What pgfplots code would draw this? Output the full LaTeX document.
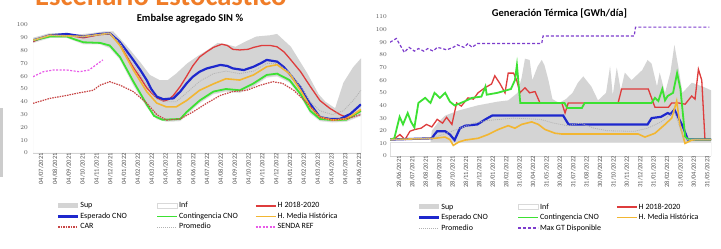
\documentclass[border=0pt]{standalone}
\usepackage{pgfplots}
\pgfplotsset{compat=1.18}
\usepackage{fontspec}
\setmainfont{Carlito}
\definecolor{cSup}{RGB}{212,212,212}
\definecolor{cBlue}{RGB}{30,40,205}
\definecolor{cGreen}{RGB}{60,225,50}
\definecolor{cRed}{RGB}{222,60,60}
\definecolor{cOrange}{RGB}{242,182,50}
\definecolor{cCar}{RGB}{200,70,70}
\definecolor{cSenda}{RGB}{232,90,232}
\definecolor{cMax}{RGB}{125,60,205}
\definecolor{cHead}{RGB}{240,125,40}
\definecolor{cTick}{RGB}{85,85,85}
\pgfplotsset{
  every axis title/.style={at={(0.5,1)}, anchor=base, font=\fontsize{10.5}{12}\selectfont\bfseries},
  mystyle/.style={
    scale only axis,
    axis lines*=left,
    y axis line style={draw=none},
    x axis line style={draw=gray!35, line width=0.6pt},
    tick style={draw=none},
    xtick={0,...,23},
    xticklabel style={rotate=90, anchor=east, font=\fontsize{6.5}{7}\selectfont, text=cTick, inner sep=0pt, yshift=-6pt},
    yticklabel style={anchor=east, font=\fontsize{6}{7}\selectfont, text=cTick, inner sep=0pt},
    legend columns=3,
    legend cell align=left,
    legend style={draw=none, fill=none, font=\fontsize{8}{9}\selectfont, inner sep=0pt,
      column sep=0pt, row sep=1pt, nodes={inner sep=1pt, text height=5.8pt, text depth=1.7pt}},
    legend image code/.code={\draw[##1] (0pt,0pt) -- (20pt,0pt);},
    axis on top,
  },
  suplegend/.style={legend image code/.code={\fill[cSup] (0pt,-2.5pt) rectangle (20pt,2.5pt);}},
  inflegend/.style={legend image code/.code={\filldraw[fill=white, draw=gray!30, line width=0.4pt] (0pt,-2.5pt) rectangle (20pt,2.5pt);}},
}
\begin{document}
\begin{tikzpicture}
\useasboundingbox (0pt,0pt) rectangle (721pt,249pt);
\fill[white] (0pt,0pt) rectangle (721pt,249pt);
\node[overlay, anchor=base west, text=cHead, font=\fontsize{28.6}{30}\selectfont\bfseries, inner sep=0pt] at (35pt,243.5pt) {Escenario Estocástico};
\fill[gray!40] (0pt,72pt) rectangle (3pt,141pt);

% ---------------- Left chart ----------------
\begin{axis}[mystyle,
  at={(33pt,96pt)}, anchor=south west,
  width=328pt, height=128pt,
  xmin=-0.15, xmax=23.57, ymin=0, ymax=100,
  ytick={0,10,...,100},
  yticklabel style={xshift=-5pt},
  xticklabels={04/07/2021,04/08/2021,04/09/2021,04/10/2021,04/11/2021,04/12/2021,04/01/2022,04/02/2022,04/03/2022,04/04/2022,04/05/2022,04/06/2022,04/07/2022,04/08/2022,04/09/2022,04/10/2022,04/11/2022,04/12/2022,04/01/2023,04/02/2023,04/03/2023,04/04/2023,04/05/2023,04/06/2023},
  title={Embalse agregado SIN \%},
  title style={xshift=-7pt, yshift=3pt},
  legend style={at={(0.073,-0.375)}, anchor=north west},
]
\addplot[fill=cSup, draw=none, suplegend] coordinates {
(-0.15,90) (1,93.5) (2,93.5) (3,92.5) (4,93.5) (5,95) (5.65,95) (6.6,84) (7.6,71) (8.3,61) (9,57) (9.6,57) (10.2,62) (11,70) (11.8,76) (12.4,80) (13.2,86) (13.8,85) (14.5,83) (15.2,87) (16,91) (17,92) (17.5,93) (18.5,83) (19.7,62) (20.5,46) (21,40) (21.7,35) (22.3,55) (23,67) (23.57,74)
} \closedcycle;
\addlegendentry{\makebox[75pt][l]{Sup}}
\addplot[fill=white, draw=gray!20, line width=0.4pt, inflegend] coordinates {
(-0.15,86) (1.08,90) (2.3,90) (3.5,85) (4.7,85) (5.4,82) (6.14,73) (7.1,53) (8.07,36) (8.8,26.5) (9.5,24.5) (10.5,25) (10.96,30) (11.9,39) (12.9,46) (13.8,48) (14.8,47) (15.8,52) (16.75,59) (17.5,60) (18.4,55) (19.2,44) (19.9,31) (20.6,25) (21.5,24) (22.5,24.5) (23.57,29)
} \closedcycle;
\addlegendentry{\makebox[75pt][l]{Inf}}
\addplot[cRed, line width=1.3pt] coordinates {
(-0.15,87) (0.5,90) (1.1,92) (2.3,92) (3.5,90) (4.7,92.5) (5.4,93) (5.9,89) (6.14,85) (6.6,76) (7.1,67) (7.6,59) (8.07,51) (8.5,46) (8.8,43) (9.3,40.5) (9.7,42) (10,45) (10.5,52) (10.96,60) (11.4,68) (11.9,75) (12.4,79) (12.9,82.5) (13.5,85) (13.9,84) (14.3,81) (14.8,80.5) (15.4,81) (15.8,82.5) (16.4,84) (17,84) (17.5,83) (18,79) (18.4,74) (19.2,63.5) (19.9,52) (20.6,41) (21.3,35) (22.05,30) (22.5,28) (23,29) (23.57,33)
};
\addlegendentry{H 2018-2020}
\addplot[cBlue, line width=2.2pt] coordinates {
(-0.15,88) (0.5,90) (1.08,92) (2.3,93) (3.5,91) (4.7,93) (5.4,93.5) (6.1,87) (6.6,80) (7.1,72.7) (7.6,65) (8.07,57) (8.4,50) (8.8,44) (9.28,42) (10,42.7) (10.5,48) (10.96,54.4) (11.4,59.5) (11.9,63.5) (12.4,66) (12.9,67.4) (13.4,68.8) (13.9,68) (14.3,66.1) (15.1,64.8) (15.8,67.4) (16.3,70) (16.75,72.7) (17.5,71.4) (18,67) (18.4,62) (18.8,56.5) (19.2,51.3) (19.9,38.3) (20.6,28) (21.3,26.6) (22.05,26.6) (22.8,30.5) (23.57,38)
};
\addlegendentry{Esperado CNO}
\addplot[cGreen, line width=1.8pt] coordinates {
(-0.15,88) (1.08,91) (2.3,91) (2.8,89) (3.5,86.5) (4.7,86) (5.4,84) (6.14,75) (7.1,56) (8.07,38) (8.6,29) (9.2,26) (10.5,26.6) (10.96,32) (11.9,41) (12.9,48) (13.8,50) (14.8,49) (15.8,54.4) (16.75,61) (17.5,62) (18.4,57) (19.2,46) (19.9,33) (20.6,26.6) (21.5,25.7) (22.5,26) (23.57,33)
};
\addlegendentry{Contingencia CNO}
\addplot[cOrange, line width=1.6pt] coordinates {
(-0.15,88) (1.08,92) (3.5,91) (5.4,93.5) (6.14,84) (7.1,65) (8.07,48) (8.8,39) (9.5,36) (10.2,36) (10.96,41) (11.9,49) (12.9,54) (13.8,58) (14.8,57) (15.8,61) (16.75,67.4) (17.5,69) (18.4,62) (19.2,49) (19.9,36) (20.6,28) (21.5,25.7) (22.5,26.6) (23.57,34)
};
\addlegendentry{H. Media Histórica}
\addplot[cCar, line width=1.2pt, dash pattern=on 1.5pt off 1pt] coordinates {
(-0.15,38.8) (1.08,42.7) (2.3,45) (3,46.6) (3.7,48) (4.2,49) (4.7,53) (5.4,55.7) (6.14,53) (7.1,48) (8.07,39) (8.8,30) (9.5,25.7) (10.5,26.6) (11.4,32) (12.4,38.8) (13.4,45) (14.3,48) (15.3,49) (16.3,53) (17.2,55.7) (17.9,54.4) (18.7,49) (19.7,38.8) (20.6,28) (21.5,25.7) (22.5,26.6) (23.57,30)
};
\addlegendentry{CAR}
\addplot[gray!60, line width=0.8pt, dash pattern=on 1pt off 1pt] coordinates {
(-0.15,88) (1.08,92) (3.5,91) (5.4,93.5) (6.14,86) (7.1,69) (8.07,53) (8.8,42) (9.5,40) (10.2,40) (10.96,47) (11.9,56) (12.9,62) (13.8,64) (14.8,62) (15.8,64) (16.75,70) (17.5,70) (18.4,63) (19.2,52) (19.9,40) (20.6,33) (21.5,30) (22.3,33) (23,41) (23.57,49)
};
\addlegendentry{Promedio}
\addplot[cSenda, line width=1.2pt, dash pattern=on 2pt off 1.5pt] coordinates {
(-0.15,59.6) (0.6,63.5) (1.3,64.8) (2.3,64.8) (3.2,63.5) (3.9,64.8) (4.4,68.8) (4.9,72.7)
};
\addlegendentry{SENDA REF}
\end{axis}

% ---------------- Right chart ----------------
\begin{axis}[mystyle,
  at={(390pt,93pt)}, anchor=south west,
  width=321pt, height=139pt,
  xmin=-0.22, xmax=23.73, ymin=0, ymax=110,
  ytick={0,10,...,110},
  yticklabel style={xshift=-3pt},
  xticklabels={28/06/2021,28/07/2021,28/08/2021,28/09/2021,28/10/2021,28/11/2021,28/12/2021,28/01/2022,28/02/2022,31/03/2022,30/04/2022,31/05/2022,30/06/2022,31/07/2022,31/08/2022,30/09/2022,31/10/2022,30/11/2022,31/12/2022,31/01/2023,28/02/2023,31/03/2023,30/04/2023,31/05/2023},
  title={Generación Térmica [GWh/día]},
  title style={xshift=9pt, yshift=0.5pt},
  legend style={at={(0.087,-0.331)}, anchor=north west},
]
\addplot[fill=cSup, draw=none, suplegend] coordinates {
(-0.22,11) (2.8,11) (2.9,20) (3.4,27) (3.9,32) (4.9,36) (6.3,40) (7.8,43) (8.6,44) (9.3,50) (9.6,62) (9.85,77) (10.2,76) (10.4,60) (10.8,71) (11.1,76) (11.3,72) (11.6,60) (11.9,45) (12.4,42) (12.9,45) (13.4,50) (13.8,58) (14.2,63) (14.8,55) (15.3,44) (15.9,50) (16.2,71) (16.4,48) (16.7,70) (17.0,52) (17.3,66) (17.8,60) (18.6,68) (19.0,76) (19.3,73) (19.7,55) (19.9,66) (20.3,50) (20.7,66) (21.0,88) (21.3,70) (21.6,50) (22.3,58) (23.1,55) (23.73,52)
} \closedcycle;
\addlegendentry{\makebox[75pt][l]{Sup}}
\addplot[fill=white, draw=gray!25, line width=0.4pt, inflegend] coordinates {
(-0.22,11) (23.73,11)
} \closedcycle;
\addlegendentry{\makebox[75pt][l]{Inf}}
\addplot[cRed, line width=1.3pt] coordinates {
(-0.22,13) (0.15,14) (0.52,17) (0.9,13) (1.27,19.6) (1.64,21) (2.1,22) (2.5,25) (2.9,23) (3.3,29) (3.7,26) (4.0,30.6) (4.4,25) (4.75,42) (5.1,39.5) (5.6,46) (6.0,45) (6.35,50) (6.86,54) (7.36,57) (7.6,63.5) (8.0,57) (8.36,50) (8.6,65.6) (9.0,65.6) (9.23,60) (9.48,50) (9.85,54) (10.2,50) (10.6,51) (10.97,42) (12.6,42) (12.84,34) (13.08,42) (16.8,42) (17.06,53) (19.05,53) (19.55,38.5) (20.55,38.5) (20.8,42) (21.3,42) (21.8,41) (22.29,47.5) (22.54,45) (22.79,68.6) (23.04,60) (23.28,13) (23.73,13)
};
\addlegendentry{H 2018-2020}
\addplot[cBlue, line width=2.2pt] coordinates {
(-0.22,13) (2.9,14) (3.1,17) (3.3,19.6) (3.9,19.6) (4.25,17) (4.6,12.6) (5.0,22) (5.4,24) (6.3,25) (6.9,29) (7.4,32) (12.7,32) (13.1,25) (19.0,25) (19.3,30) (20.0,31) (20.5,34) (20.7,33) (21.0,36.7) (21.6,24) (22.0,13) (23.73,13)
};
\addlegendentry{Esperado CNO}
\addplot[cGreen, line width=1.8pt] coordinates {
(-0.22,13) (0.1,14) (0.5,31) (0.75,25) (1.1,34) (1.35,27) (1.6,22.6) (1.9,42) (2.4,46) (2.8,42) (3.1,50) (3.5,46) (3.9,50) (4.25,43) (4.6,40) (5.3,43) (5.9,46) (6.6,47) (6.9,55) (7.0,48.5) (7.8,50) (8.8,53) (9.1,60) (9.25,72) (9.5,42) (12.8,42) (13.0,38) (14.1,38) (14.3,42) (19.3,42) (19.55,46) (19.8,43.5) (20.1,53) (20.3,44) (20.5,47.5) (20.9,50) (21.2,65.6) (21.45,53) (21.8,15.3) (22.05,13) (23.73,13)
};
\addlegendentry{Contingencia CNO}
\addplot[cOrange, line width=1.6pt] coordinates {
(-0.22,13) (3.1,14) (3.88,15) (4.25,13) (4.5,8.4) (4.9,11) (5.37,12.6) (6.35,14) (7.1,17) (7.86,21) (8.6,24) (9.1,22) (9.6,25) (10.35,27) (10.85,25) (11.34,21) (12.1,18) (12.6,17.4) (18.3,17.4) (18.8,15) (19.55,18) (20.3,25) (20.8,30) (21.17,43.5) (21.42,24) (21.79,10) (22.29,12.6) (22.6,13) (23.73,13)
};
\addlegendentry{H. Media Histórica}
\addplot[gray!60, line width=0.8pt, dash pattern=on 1pt off 1pt] coordinates {
(-0.22,13) (2.9,14) (4,18) (5,22) (6,26) (7,28) (9,30) (11,29) (12,26) (13,24) (14,26) (15,22) (16,20) (18,19.5) (19,22) (20,27) (21,35) (21.7,14) (22,13) (23.73,13)
};
\addlegendentry{Promedio}
\addplot[cMax, line width=1.2pt, dash pattern=on 3pt off 2pt] coordinates {
(-0.22,90) (0.25,93) (0.85,82) (1.2,86) (1.6,83) (1.9,85) (2.3,83) (2.6,85) (3.0,83) (3.3,86) (3.7,85) (4.0,84) (4.5,86) (4.8,88) (5.3,86) (5.6,89) (5.9,86) (6.3,89) (11.1,89) (11.2,95) (18.0,95) (18.1,102) (23.6,102)
};
\addlegendentry{Max GT Disponible}
\end{axis}
\end{tikzpicture}
\end{document}
